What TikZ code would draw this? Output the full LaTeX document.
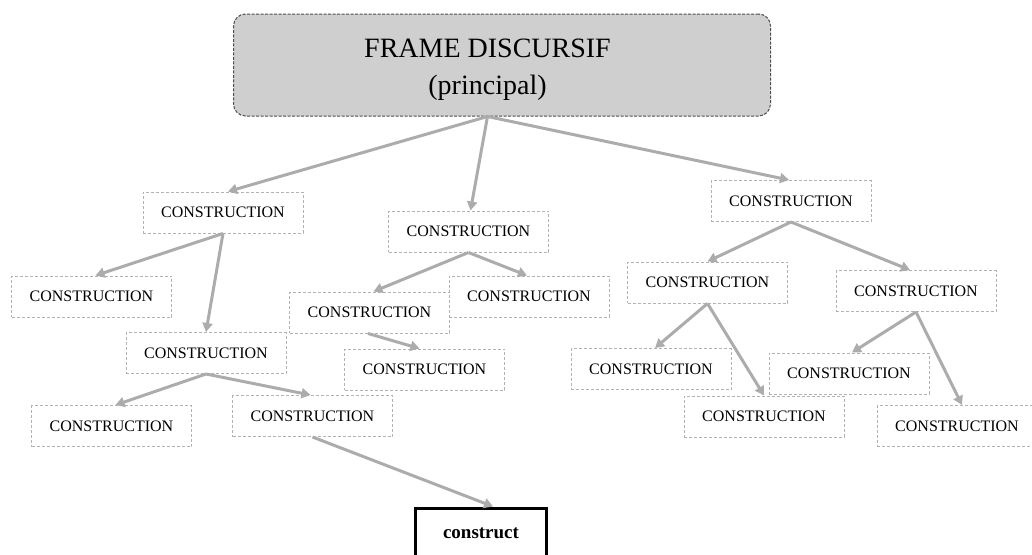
\documentclass[tikz,border=0pt]{standalone}
\usepackage{fontspec}
\setmainfont{Liberation Serif}
\usetikzlibrary{arrows.meta}
\definecolor{linkgray}{RGB}{172,172,172}
\definecolor{boxgray}{RGB}{178,178,178}
\definecolor{framefill}{RGB}{208,207,208}
\tikzstyle{arrow} = [-{Triangle[length=9pt,width=10pt]},linkgray,line width=3pt]
\tikzstyle{cbox} = [draw=boxgray,fill=white,dash pattern=on 3pt off 2pt,line width=1pt,minimum width=160pt,minimum height=41pt,inner sep=2pt,font=\fontsize{16}{19}\selectfont]
\tikzstyle{frame} = [draw=black!70,fill=framefill,dash pattern=on 3pt off 1.5pt,line width=1pt,rounded corners=12pt,minimum width=537pt,minimum height=102pt]

\begin{document}
\begin{tikzpicture}[x=1pt,y=-1pt]
        \useasboundingbox (0,0) rectangle (1032,554);
        \node[frame] at (502,65) (frame) {};
        \node[align=center, font=\fontsize{28}{37}\selectfont] at (487.5,70) (title) {FRAME DISCURSIF\\(principal)};

        \node[cbox] at (223,212.5) (c1) {CONSTRUCTION};
        \node[cbox] at (91.5,296.5) (c1a) {CONSTRUCTION};
        \node[cbox] at (206,353) (c1b) {CONSTRUCTION};
        \node[cbox] at (111.5,426) (c1b1) {CONSTRUCTION};
        \node[cbox] at (312.5,416) (c1b2) {CONSTRUCTION};

        \node[cbox] at (468.5,231.5) (c2) {CONSTRUCTION};
        \node[cbox] at (529,296.5) (c2b) {CONSTRUCTION};
        \node[cbox] at (369.5,312.5) (c2a) {CONSTRUCTION};
        \node[cbox] at (424.5,369.5) (c2a1) {CONSTRUCTION};

        \node[cbox] at (791,201) (c3) {CONSTRUCTION};
        \node[cbox] at (707.5,282.5) (c3a) {CONSTRUCTION};
        \node[cbox] at (916,291) (c3b) {CONSTRUCTION};
        \node[cbox] at (651,369) (c3a1) {CONSTRUCTION};
        \node[cbox] at (764,416.5) (c3a2) {CONSTRUCTION};
        \node[cbox] at (849,373.5) (c3b1) {CONSTRUCTION};
        \node[cbox] at (957,426) (c3b2) {CONSTRUCTION};

        \node[draw=black, line width=3pt, minimum width=131pt, minimum height=51pt, font=\fontsize{19}{22}\selectfont\bfseries] at (481,533.5) (cons) {construct};

        \draw[arrow] (frame.south -| title) -- ([xshift=5pt]c1.north);
        \draw[arrow] (frame.south -| title) -- ([xshift=2pt]c2.north);
        \draw[arrow] (frame.south -| title) -- ([xshift=-2pt]c3.north);
        \draw[arrow] (c1.south) -- ([xshift=4pt]c1a.north);
        \draw[arrow] (c1.south) -- (c1b.north);
        \draw[arrow] (c1b.south) -- ([xshift=4pt]c1b1.north);
        \draw[arrow] (c1b.south) -- ([xshift=-2pt]c1b2.north);
        \draw[arrow] (c1b2.south) -- ([xshift=12pt]cons.north);
        \draw[arrow] (c2.south) -- ([xshift=4pt]c2a.north);
        \draw[arrow] (c2.south) -- ([xshift=-2pt]c2b.north);
        \draw[arrow] ([xshift=-1.5pt]c2a.south) -- ([xshift=-5pt]c2a1.north);
        \draw[arrow] (c3.south) -- (c3a.north);
        \draw[arrow] (c3.south) -- ([xshift=-6pt]c3b.north);
        \draw[arrow] (c3a.south) -- ([xshift=4pt]c3a1.north);
        \draw[arrow] (c3a.south) -- (c3a2.north);
        \draw[arrow] (c3b.south) -- ([xshift=3pt]c3b1.north);
        \draw[arrow] (c3b.south) -- ([xshift=5pt]c3b2.north);

      \end{tikzpicture}
\end{document}
